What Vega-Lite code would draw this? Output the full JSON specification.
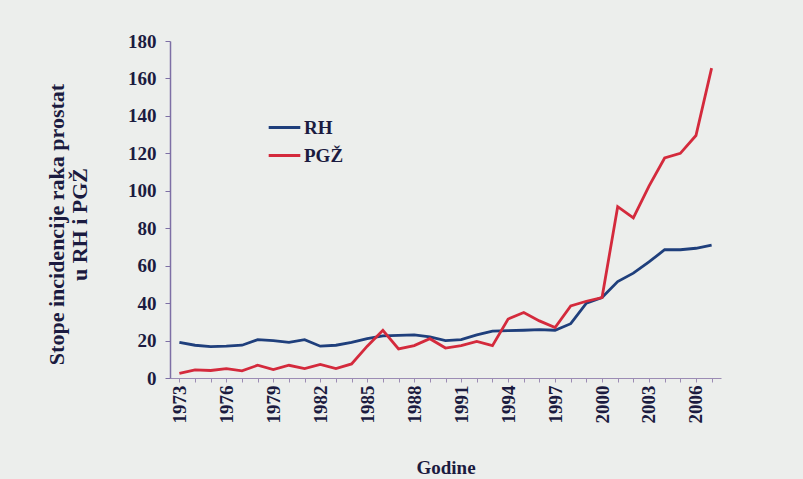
{
  "$schema": "https://vega.github.io/schema/vega-lite/v6.json",
  "width": 551,
  "height": 337,
  "autosize": {"type": "none"},
  "padding": {"left": 170, "top": 41, "right": 82, "bottom": 101},
  "background": "#eceeec",
  "config": {
    "view": {"stroke": null},
    "font": "Liberation Serif"
  },
  "data": {
    "values": [
      {"year": 1973, "series": "RH", "value": 19}, {"year": 1974, "series": "RH", "value": 17.5}, {"year": 1975, "series": "RH", "value": 16.8}, {"year": 1976, "series": "RH", "value": 17}, {"year": 1977, "series": "RH", "value": 17.5}, {"year": 1978, "series": "RH", "value": 20.5}, {"year": 1979, "series": "RH", "value": 20}, {"year": 1980, "series": "RH", "value": 19}, {"year": 1981, "series": "RH", "value": 20.5}, {"year": 1982, "series": "RH", "value": 17}, {"year": 1983, "series": "RH", "value": 17.5}, {"year": 1984, "series": "RH", "value": 19}, {"year": 1985, "series": "RH", "value": 21}, {"year": 1986, "series": "RH", "value": 22.5}, {"year": 1987, "series": "RH", "value": 22.8}, {"year": 1988, "series": "RH", "value": 23}, {"year": 1989, "series": "RH", "value": 22}, {"year": 1990, "series": "RH", "value": 20}, {"year": 1991, "series": "RH", "value": 20.5}, {"year": 1992, "series": "RH", "value": 23}, {"year": 1993, "series": "RH", "value": 25}, {"year": 1994, "series": "RH", "value": 25.3}, {"year": 1995, "series": "RH", "value": 25.5}, {"year": 1996, "series": "RH", "value": 25.8}, {"year": 1997, "series": "RH", "value": 25.5}, {"year": 1998, "series": "RH", "value": 29}, {"year": 1999, "series": "RH", "value": 40}, {"year": 2000, "series": "RH", "value": 43}, {"year": 2001, "series": "RH", "value": 51.5}, {"year": 2002, "series": "RH", "value": 56}, {"year": 2003, "series": "RH", "value": 62}, {"year": 2004, "series": "RH", "value": 68.5}, {"year": 2005, "series": "RH", "value": 68.5}, {"year": 2006, "series": "RH", "value": 69.3}, {"year": 2007, "series": "RH", "value": 71},
      {"year": 1973, "series": "PGŽ", "value": 2.5}, {"year": 1974, "series": "PGŽ", "value": 4.3}, {"year": 1975, "series": "PGŽ", "value": 4}, {"year": 1976, "series": "PGŽ", "value": 5}, {"year": 1977, "series": "PGŽ", "value": 3.8}, {"year": 1978, "series": "PGŽ", "value": 6.8}, {"year": 1979, "series": "PGŽ", "value": 4.5}, {"year": 1980, "series": "PGŽ", "value": 6.8}, {"year": 1981, "series": "PGŽ", "value": 5}, {"year": 1982, "series": "PGŽ", "value": 7.2}, {"year": 1983, "series": "PGŽ", "value": 5}, {"year": 1984, "series": "PGŽ", "value": 7.5}, {"year": 1985, "series": "PGŽ", "value": 17}, {"year": 1986, "series": "PGŽ", "value": 25.5}, {"year": 1987, "series": "PGŽ", "value": 15.5}, {"year": 1988, "series": "PGŽ", "value": 17.3}, {"year": 1989, "series": "PGŽ", "value": 21}, {"year": 1990, "series": "PGŽ", "value": 16}, {"year": 1991, "series": "PGŽ", "value": 17.3}, {"year": 1992, "series": "PGŽ", "value": 19.5}, {"year": 1993, "series": "PGŽ", "value": 17.3}, {"year": 1994, "series": "PGŽ", "value": 31.5}, {"year": 1995, "series": "PGŽ", "value": 35}, {"year": 1996, "series": "PGŽ", "value": 30.5}, {"year": 1997, "series": "PGŽ", "value": 27}, {"year": 1998, "series": "PGŽ", "value": 38.5}, {"year": 1999, "series": "PGŽ", "value": 41}, {"year": 2000, "series": "PGŽ", "value": 43}, {"year": 2001, "series": "PGŽ", "value": 91.5}, {"year": 2002, "series": "PGŽ", "value": 85.5}, {"year": 2003, "series": "PGŽ", "value": 102.5}, {"year": 2004, "series": "PGŽ", "value": 117.5}, {"year": 2005, "series": "PGŽ", "value": 120}, {"year": 2006, "series": "PGŽ", "value": 129.5}, {"year": 2007, "series": "PGŽ", "value": 165.5}
    ]
  },
  "mark": {"type": "line", "strokeWidth": 2.8},
  "encoding": {
    "x": {
      "field": "year",
      "type": "quantitative",
      "scale": {"domain": [1972.4, 2007.6], "nice": false, "zero": false},
      "axis": {
        "title": "Godine",
        "values": [1973, 1974, 1975, 1976, 1977, 1978, 1979, 1980, 1981, 1982, 1983, 1984, 1985, 1986, 1987, 1988, 1989, 1990, 1991, 1992, 1993, 1994, 1995, 1996, 1997, 1998, 1999, 2000, 2001, 2002, 2003, 2004, 2005, 2006, 2007],
        "labelExpr": "(datum.value - 1973) % 3 == 0 ? '' + datum.value : ''",
        "labelAngle": -90,
        "labelAlign": "right",
        "labelBaseline": "middle",
        "labelFont": "Liberation Serif",
        "labelFontWeight": "bold",
        "labelFontSize": 19,
        "labelColor": "#1b1b40",
        "labelPadding": 3,
        "labelOverlap": false,
        "labelFlush": false,
        "tickSize": 4,
        "tickColor": "#9c8cb4",
        "domainColor": "#9c8cb4",
        "domainWidth": 1,
        "grid": false,
        "titleFont": "Liberation Serif",
        "titleFontWeight": "bold",
        "titleFontSize": 19,
        "titleColor": "#1b1b40",
        "titlePadding": 35
      }
    },
    "y": {
      "field": "value",
      "type": "quantitative",
      "scale": {"domain": [0, 180], "nice": false},
      "axis": {
        "title": ["Stope incidencije raka prostat", "u RH i PGŽ"],
        "values": [0, 20, 40, 60, 80, 100, 120, 140, 160, 180],
        "labelFont": "Liberation Serif",
        "labelFontWeight": "bold",
        "labelFontSize": 19,
        "labelColor": "#1b1b40",
        "labelPadding": 9,
        "tickSize": 5,
        "tickColor": "#7d6fa5",
        "domainColor": "#7d6fa5",
        "domainWidth": 1.5,
        "grid": false,
        "titleFont": "Liberation Serif",
        "titleFontWeight": "bold",
        "titleFontSize": 22,
        "titleColor": "#1b1b40",
        "titleLineHeight": 23,
        "titlePadding": 36,
        "titleY": 183
      }
    },
    "color": {
      "field": "series",
      "type": "nominal",
      "scale": {"domain": ["RH", "PGŽ"], "range": ["#1f3f7c", "#d42a3c"]},
      "legend": {
        "title": null,
        "orient": "none",
        "legendX": 97,
        "legendY": 69,
        "symbolType": "stroke",
        "symbolSize": 1000,
        "symbolStrokeWidth": 2.8,
        "labelFont": "Liberation Serif",
        "labelFontWeight": "bold",
        "labelFontSize": 19,
        "labelColor": "#1b1b40",
        "labelOffset": 2,
        "rowPadding": -3
      }
    }
  }
}
